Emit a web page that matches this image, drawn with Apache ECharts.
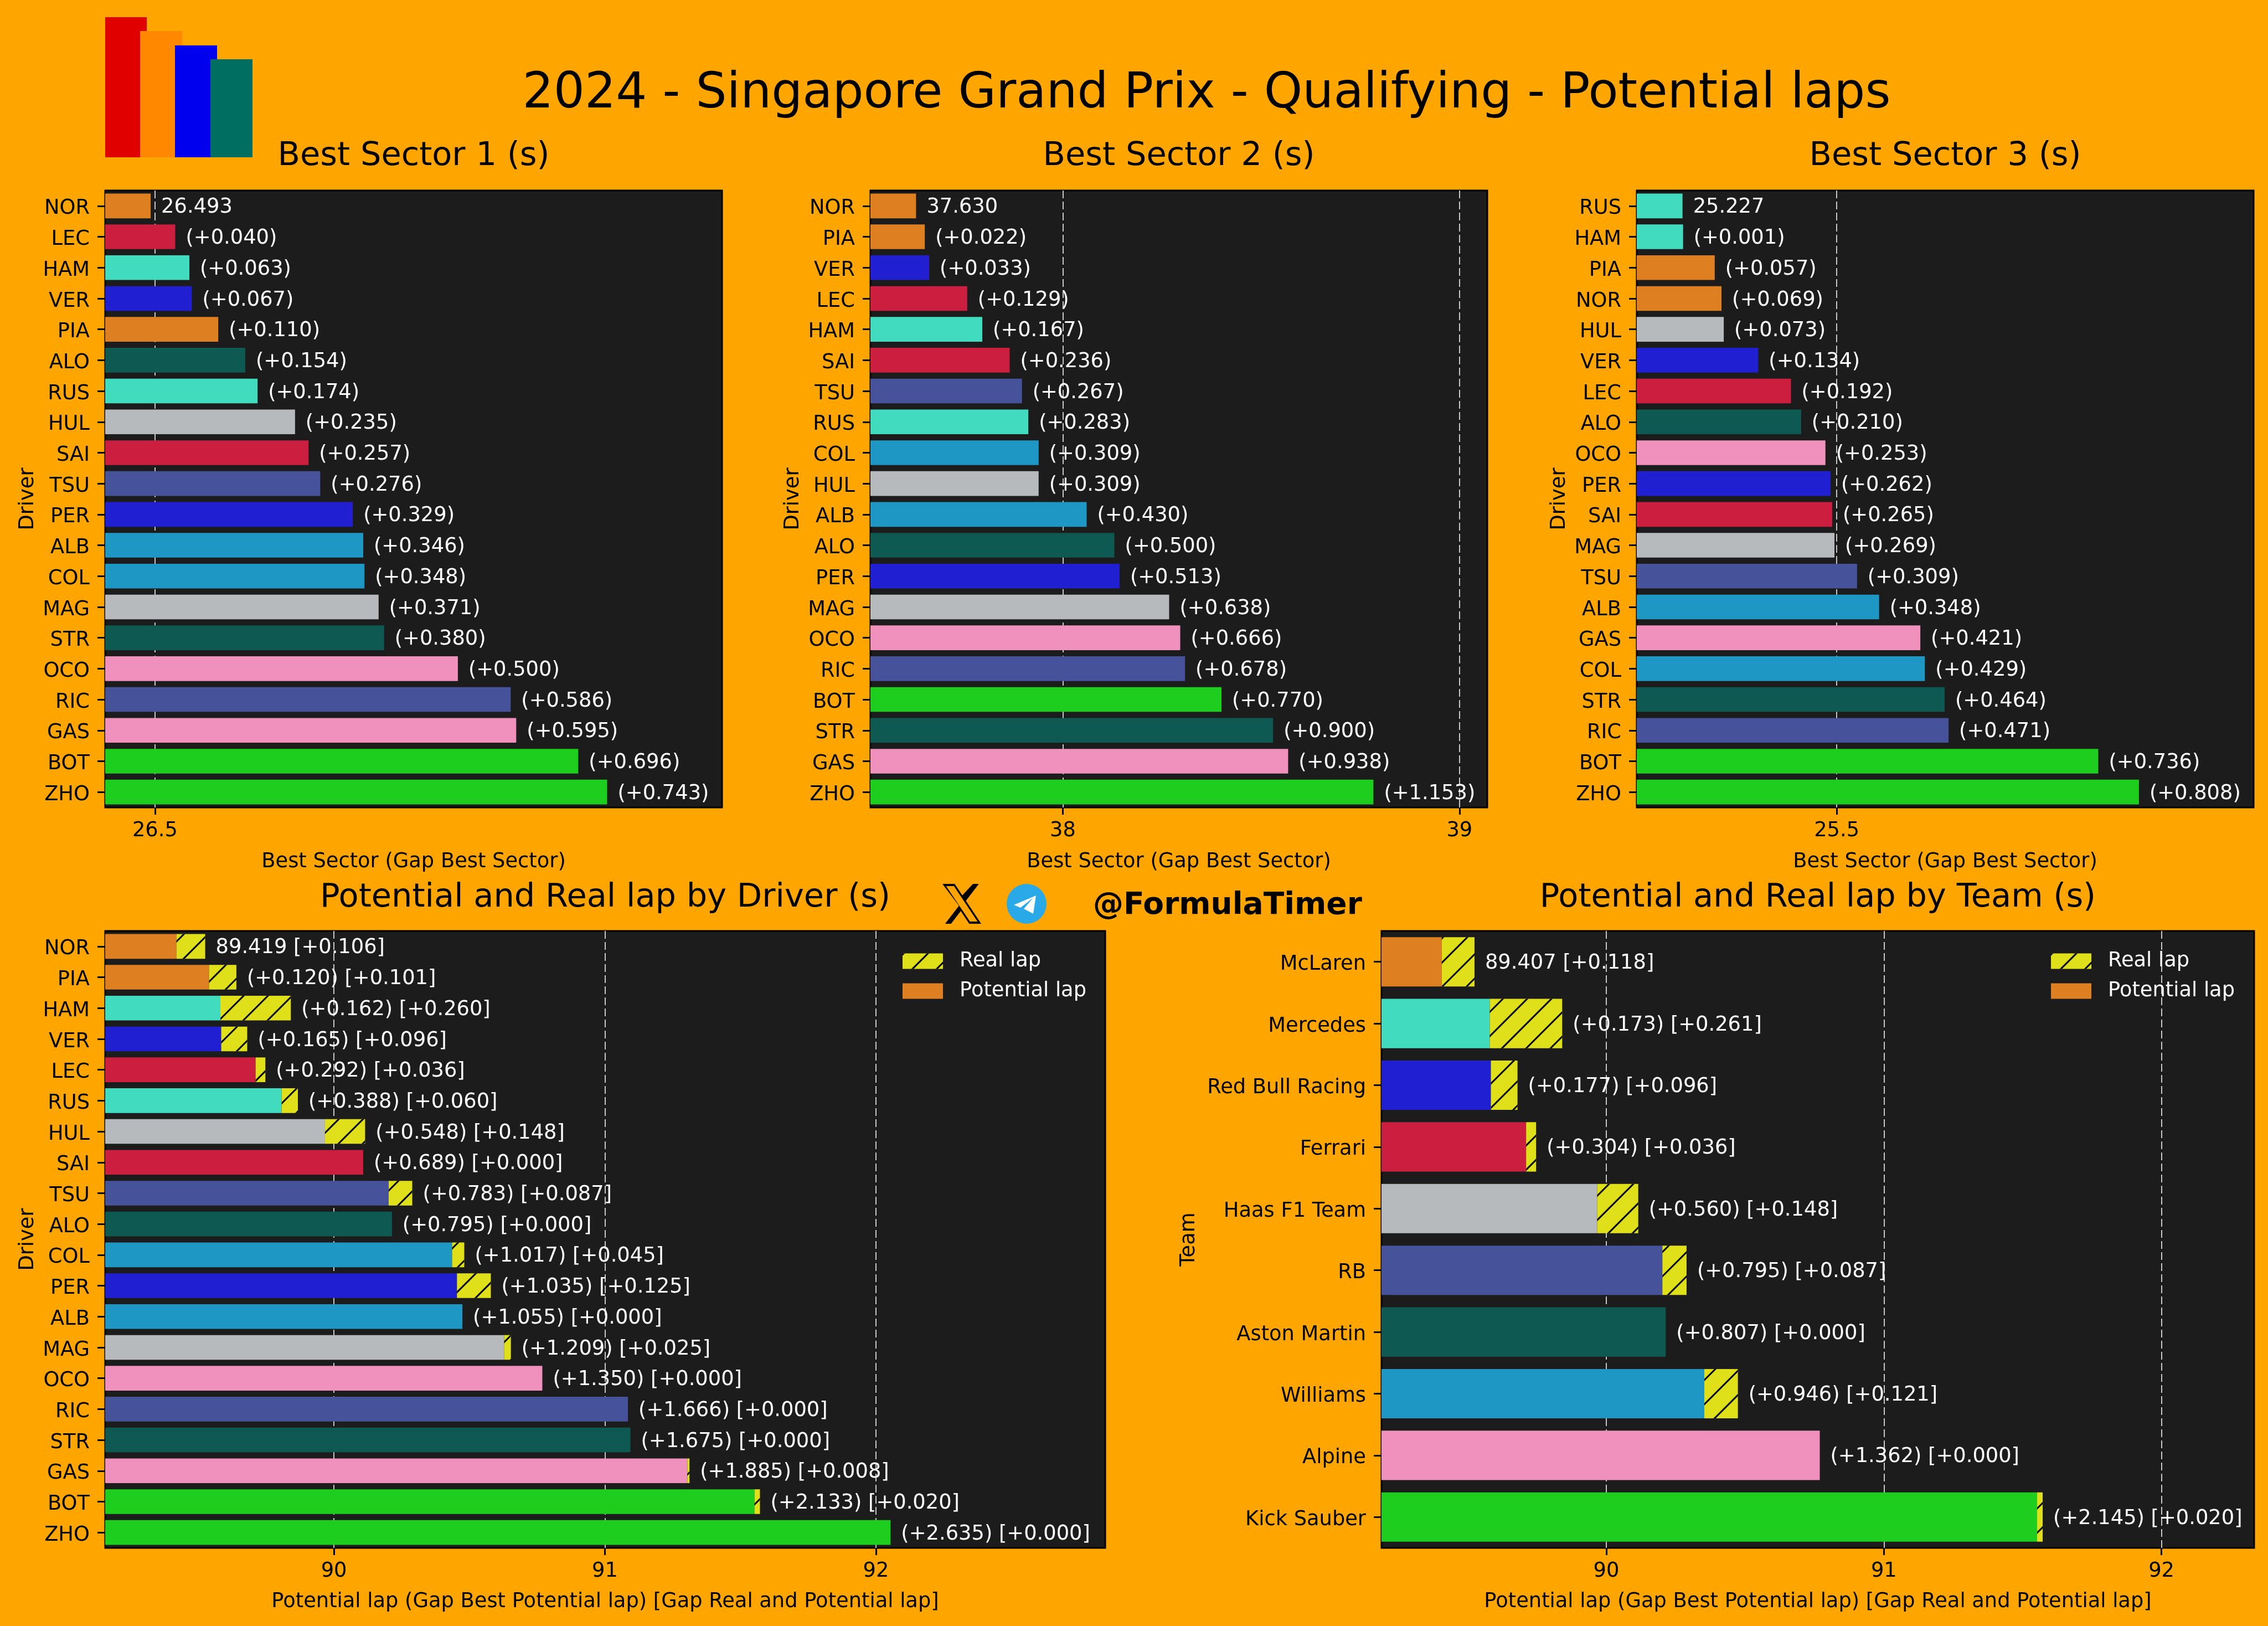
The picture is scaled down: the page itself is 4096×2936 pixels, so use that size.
<!DOCTYPE html>
<html><head><meta charset="utf-8">
<style>html,body{margin:0;padding:0;background:#FFA500}#c{width:4096px;height:2936px}</style>
<script src="https://cdn.jsdelivr.net/npm/echarts@6/dist/echarts.min.js"></script>
</head><body><div id="c"></div>
<script>
const teamColors = {McLaren:'#DE7F22',Ferrari:'#CC1E3F',Mercedes:'#41DBBF',RedBull:'#2020D2',Aston:'#0E5A52',Haas:'#B6BABD',RB:'#46539B',Williams:'#1F97C4',Alpine:'#F091BD',Sauber:'#1ECE1E'};
const driverTeam = {NOR:'McLaren',PIA:'McLaren',LEC:'Ferrari',SAI:'Ferrari',HAM:'Mercedes',RUS:'Mercedes',VER:'RedBull',PER:'RedBull',ALO:'Aston',STR:'Aston',HUL:'Haas',MAG:'Haas',TSU:'RB',RIC:'RB',ALB:'Williams',COL:'Williams',OCO:'Alpine',GAS:'Alpine',BOT:'Sauber',ZHO:'Sauber'};
const teamKey = {'McLaren':'McLaren','Mercedes':'Mercedes','Red Bull Racing':'RedBull','Ferrari':'Ferrari','Haas F1 Team':'Haas','RB':'RB','Aston Martin':'Aston','Williams':'Williams','Alpine':'Alpine','Kick Sauber':'Sauber'};

const s1Drivers = ['NOR','LEC','HAM','VER','PIA','ALO','RUS','HUL','SAI','TSU','PER','ALB','COL','MAG','STR','OCO','RIC','GAS','BOT','ZHO'];
const s1Best = 26.493;
const s1Gaps = [0,0.040,0.063,0.067,0.110,0.154,0.174,0.235,0.257,0.276,0.329,0.346,0.348,0.371,0.380,0.500,0.586,0.595,0.696,0.743];

const s2Drivers = ['NOR','PIA','VER','LEC','HAM','SAI','TSU','RUS','COL','HUL','ALB','ALO','PER','MAG','OCO','RIC','BOT','STR','GAS','ZHO'];
const s2Best = 37.630;
const s2Gaps = [0,0.022,0.033,0.129,0.167,0.236,0.267,0.283,0.309,0.309,0.430,0.500,0.513,0.638,0.666,0.678,0.770,0.900,0.938,1.153];

const s3Drivers = ['RUS','HAM','PIA','NOR','HUL','VER','LEC','ALO','OCO','PER','SAI','MAG','TSU','ALB','GAS','COL','STR','RIC','BOT','ZHO'];
const s3Best = 25.227;
const s3Gaps = [0,0.001,0.057,0.069,0.073,0.134,0.192,0.210,0.253,0.262,0.265,0.269,0.309,0.348,0.421,0.429,0.464,0.471,0.736,0.808];

const lapDrivers = ['NOR','PIA','HAM','VER','LEC','RUS','HUL','SAI','TSU','ALO','COL','PER','ALB','MAG','OCO','RIC','STR','GAS','BOT','ZHO'];
const lapBest = 89.419;
const lapGaps = [0,0.120,0.162,0.165,0.292,0.388,0.548,0.689,0.783,0.795,1.017,1.035,1.055,1.209,1.350,1.666,1.675,1.885,2.133,2.635];
const lapReal = [0.106,0.101,0.260,0.096,0.036,0.060,0.148,0,0.087,0,0.045,0.125,0,0.025,0,0,0,0.008,0.020,0];

const teams = ['McLaren','Mercedes','Red Bull Racing','Ferrari','Haas F1 Team','RB','Aston Martin','Williams','Alpine','Kick Sauber'];
const teamBest = 89.407;
const teamGaps = [0,0.173,0.177,0.304,0.560,0.795,0.807,0.946,1.362,2.145];
const teamReal = [0.118,0.261,0.096,0.036,0.148,0.087,0,0.121,0,0.020];

const FONT = 'DejaVu Sans';
const SMALL = 36.8;
const panels = [
 {l:190,t:344,w:1114,h:1114,min:26.419,max:27.423,ticks:[26.5],xGap:80},
 {l:1572,t:344,w:1114,h:1114,min:37.515,max:39.07,ticks:[38,39],xGap:80},
 {l:2956,t:344,w:1114,h:1114,min:25.146,max:26.238,ticks:[25.5],xGap:80},
 {l:190,t:1681,w:1806,h:1114,min:89.156,max:92.846,ticks:[90,91,92],xGap:79},
 {l:2495,t:1681,w:1576,h:1114,min:89.19,max:92.334,ticks:[90,91,92],xGap:79}
];
const titleTexts = ['Best Sector 1 (s)','Best Sector 2 (s)','Best Sector 3 (s)','Potential and Real lap by Driver (s)','Potential and Real lap by Team (s)'];
const cats = [s1Drivers,s2Drivers,s3Drivers,lapDrivers,teams];
const yNames = ['Driver','Driver','Driver','Driver','Team'];
const xNames = ['Best Sector (Gap Best Sector)','Best Sector (Gap Best Sector)','Best Sector (Gap Best Sector)','Potential lap (Gap Best Potential lap) [Gap Real and Potential lap]','Potential lap (Gap Best Potential lap) [Gap Real and Potential lap]'];
const yGaps = [121,121,121,121,329];

const r3 = v => Math.round(v*1000)/1000;
const gapText = (best,g,i) => i===0 ? best.toFixed(3) : '(+'+g.toFixed(3)+')';

const grid = panels.map(p=>({left:p.l,top:p.t,width:p.w,height:p.h,show:true,backgroundColor:'#1C1C1C',borderColor:'#000',borderWidth:3}));
const xAxis = panels.map((p,i)=>({
  type:'value',gridIndex:i,min:p.min,max:p.max,position:'bottom',
  name:xNames[i],nameLocation:'middle',nameGap:p.xGap,nameTextStyle:{color:'#000',fontFamily:FONT,fontSize:SMALL},
  axisLine:{show:false},
  axisTick:{show:true,length:13,lineStyle:{color:'#000',width:3},customValues:p.ticks},
  axisLabel:{color:'#000',fontFamily:FONT,fontSize:SMALL,margin:24,customValues:p.ticks,formatter:v=>String(v)},
  splitLine:{show:true,lineStyle:{color:'#C8C8C8',width:2,type:[14,6]}}
}));
const yAxis = panels.map((p,i)=>({
  type:'category',gridIndex:i,inverse:true,data:cats[i],
  name:yNames[i],nameLocation:'middle',nameGap:yGaps[i],nameTextStyle:{color:'#000',fontFamily:FONT,fontSize:SMALL},
  axisLine:{show:false},
  axisTick:{show:true,length:14,alignWithLabel:true,lineStyle:{color:'#000',width:3}},
  axisLabel:{color:'#000',fontFamily:FONT,fontSize:SMALL,margin:28,interval:0,verticalAlign:'top',lineHeight:10},
  splitLine:{show:false}
}));

const lbl = {show:true,position:'right',distance:19,color:'#fff',fontFamily:FONT,fontSize:SMALL,offset:[0,3]};
function sectorSeries(idx,drivers,best,gaps){
  return {type:'bar',xAxisIndex:idx,yAxisIndex:idx,barWidth:'80%',silent:true,
    data:gaps.map((g,i)=>({value:r3(best+g),itemStyle:{color:teamColors[driverTeam[drivers[i]]]},
      label:{...lbl,formatter:gapText(best,g,i)}}))};
}
const REAL_COLOR='#E0E01A';
const hatch={symbol:'rect',symbolSize:1,color:'#000',dashArrayX:[1,0],dashArrayY:[3,28],rotation:-Math.PI/4};
function lapSeries(idx,keys,keyColor,best,gaps,real){
  const stack='lap'+idx;
  return [
   {name:'Potential lap',type:'bar',stack,xAxisIndex:idx,yAxisIndex:idx,barWidth:'80%',silent:true,
    itemStyle:{color:teamColors.McLaren},
    data:gaps.map((g,i)=>({value:r3(best+g),itemStyle:{color:keyColor(keys[i])}}))},
   {name:'Real lap',type:'bar',stack,xAxisIndex:idx,yAxisIndex:idx,barWidth:'80%',silent:true,
    itemStyle:{color:REAL_COLOR,decal:hatch},
    data:real.map((v,i)=>({value:v,label:{...lbl,formatter:gapText(best,gaps[i],i)+' [+'+v.toFixed(3)+']'}}))}
  ];
}
const series=[
  sectorSeries(0,s1Drivers,s1Best,s1Gaps),
  sectorSeries(1,s2Drivers,s2Best,s2Gaps),
  sectorSeries(2,s3Drivers,s3Best,s3Gaps),
  ...lapSeries(3,lapDrivers,d=>teamColors[driverTeam[d]],lapBest,lapGaps,lapReal),
  ...lapSeries(4,teams,t=>teamColors[teamKey[t]],teamBest,teamGaps,teamReal)
];
const legendBase={orient:'vertical',padding:0,itemWidth:73,itemHeight:28,itemGap:17,icon:'rect',top:1717,
  data:['Real lap','Potential lap'],selectedMode:false,
  textStyle:{color:'#fff',fontFamily:FONT,fontSize:SMALL,padding:[0,0,0,25]}};
const legend=[{...legendBase,left:1630},{...legendBase,left:3704}];

const title=[
 {text:'2024 - Singapore Grand Prix - Qualifying - Potential laps',left:2174,top:122,textAlign:'center',textStyle:{color:'#000',fontFamily:FONT,fontSize:88.4,fontWeight:'normal'}},
 ...panels.map((p,i)=>({text:titleTexts[i],left:p.l+p.w/2-5,top:i<3?248:1587,textAlign:'center',textStyle:{color:'#000',fontFamily:FONT,fontSize:59,fontWeight:'normal'}}))
];
const xMap=p=>[1702+(p[0]-1.254)/21.573*70,1596+(p[1]-2.25)/19.5*72];
const xOuter=[[18.244,2.25],[21.552,2.25],[14.325,10.51],[22.827,21.75],[16.17,21.75],[11.456,15.519],[6.055,21.75],[2.744,21.75],[10.474,12.915],[1.254,2.25],[8.08,2.25],[12.34,7.882]].map(xMap);
const xInner=[[3.3,3.3],[7.67,3.3],[20.83,20.7],[16.57,20.7]].map(xMap);
const graphic=[
 {type:'rect',shape:{x:190,y:31,width:75,height:253},style:{fill:'#E00000'}},
 {type:'rect',shape:{x:253,y:56,width:76,height:228},style:{fill:'#FF8800'}},
 {type:'rect',shape:{x:316,y:82,width:76,height:202},style:{fill:'#0000EE'}},
 {type:'rect',shape:{x:380,y:107,width:76,height:177},style:{fill:'#006F62'}},
 {type:'polygon',shape:{points:xOuter},style:{fill:'#000'}},
 {type:'polygon',shape:{points:xInner},style:{fill:'#FFA500'}},
 {type:'circle',shape:{cx:1854,cy:1632,r:36},style:{fill:'#29A9E8'}},
 {type:'polygon',shape:{points:[[1871,1617],[1831,1634],[1843,1639],[1866,1621],[1849,1641],[1866,1650]]},style:{fill:'#fff'}},
 {type:'text',x:1974,y:1636,style:{text:'@FormulaTimer',fill:'#000',font:'bold 55px "DejaVu Sans"',verticalAlign:'middle'}}
];
const chart=echarts.init(document.getElementById('c'),null,{renderer:'canvas',devicePixelRatio:1,width:4096,height:2936});
chart.setOption({animation:false,backgroundColor:'#FFA500',title,grid,xAxis,yAxis,series,legend,graphic});
</script></body></html>
